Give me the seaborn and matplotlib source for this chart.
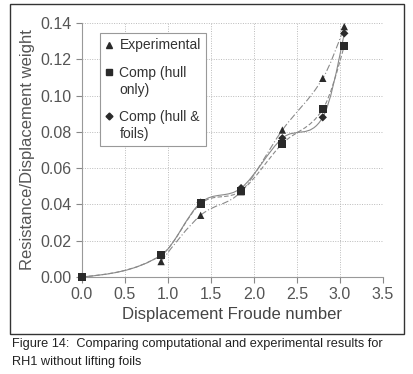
import numpy as np
import pandas as pd
import seaborn as sns
import matplotlib.pyplot as plt
from matplotlib.path import Path
from matplotlib.patches import PathPatch, Rectangle
from matplotlib.lines import Line2D
from matplotlib.legend_handler import HandlerLine2D

# -------- DATA --------
exp_fr = [0.92, 1.38, 1.85, 2.33, 2.80, 3.05]
exp_res = [0.0085, 0.034, 0.047, 0.081, 0.1095, 0.138]

hull_fr = [0.0, 0.92, 1.38, 1.85, 2.33, 2.80, 3.05]
hull_res = [0.0, 0.012, 0.0405, 0.0475, 0.0735, 0.0925, 0.1275]

foil_fr = [0.0, 0.92, 1.38, 1.85, 2.33, 2.80, 3.05]
foil_res = [0.0, 0.012, 0.041, 0.049, 0.0765, 0.088, 0.1343]

labels = ["Experimental", "Comp (hull\nonly)", "Comp (hull &\nfoils)"]
x_ticks = [0.0, 0.5, 1.0, 1.5, 2.0, 2.5, 3.0, 3.5]
y_ticks = [0.00, 0.02, 0.04, 0.06, 0.08, 0.10, 0.12, 0.14]

df = pd.concat([
    pd.DataFrame({"fr": foil_fr, "res": foil_res, "series": labels[2]}),
    pd.DataFrame({"fr": hull_fr, "res": hull_res, "series": labels[1]}),
    pd.DataFrame({"fr": exp_fr, "res": exp_res, "series": labels[0]}),
])


def smooth_path(xs, ys):
    # smooth line through the points (cubic hermite drawn as bezier segments)
    x = np.asarray(xs, float)
    y = np.asarray(ys, float)
    sec = np.diff(y) / np.diff(x)
    m = np.empty_like(y)
    m[1:-1] = (y[2:] - y[:-2]) / (x[2:] - x[:-2])
    m[0] = (3 * sec[0] - m[1]) / 2
    m[-1] = (3 * sec[-1] - m[-2]) / 2
    verts = [(x[0], y[0])]
    codes = [Path.MOVETO]
    for i in range(len(x) - 1):
        h = (x[i + 1] - x[i]) / 3
        verts += [(x[i] + h, y[i] + m[i] * h),
                  (x[i + 1] - h, y[i + 1] - m[i + 1] * h),
                  (x[i + 1], y[i + 1])]
        codes += [Path.CURVE4] * 3
    return Path(verts, codes)


class FirstLineHandler(HandlerLine2D):
    # put the marker next to the first line of a two-line label
    def __init__(self, shift=0.0, **kw):
        super().__init__(**kw)
        self.shift = shift

    def create_artists(self, legend, orig_handle, xdescent, ydescent, width,
                       height, fontsize, trans):
        arts = super().create_artists(legend, orig_handle, xdescent, ydescent,
                                      width, height, fontsize, trans)
        for a in arts:
            a.set_ydata(np.asarray(a.get_ydata()) + self.shift * fontsize)
        return arts


# -------- PLOT --------
sns.set_style("white")
plt.rcParams["font.family"] = ["Liberation Sans", "DejaVu Sans"]

fig = plt.figure(figsize=(4.13, 3.74), dpi=100)
ax = fig.add_axes([0.1985, 0.2594, 0.7288, 0.6791])

fig.patches.append(Rectangle((0.025, 0.107), 0.953, 0.881, transform=fig.transFigure,
                             fill=False, edgecolor="#333333", lw=1.0))

line_col = "#8a8a8a"
for xs, ys, ls in [(exp_fr, exp_res, (0, (6, 2, 1, 2))),
                   (hull_fr, hull_res, (0, (4, 2))),
                   (foil_fr, foil_res, "-")]:
    ax.add_patch(PathPatch(smooth_path(xs, ys), fill=False, edgecolor=line_col,
                           lw=0.8, linestyle=ls))

markers = {labels[0]: "^", labels[1]: "s", labels[2]: "D"}
sizes = {labels[0]: 28, labels[1]: 34, labels[2]: 18}
for name in [labels[2], labels[1], labels[0]]:
    sub = df[df["series"] == name]
    sns.scatterplot(data=sub, x="fr", y="res", marker=markers[name], s=sizes[name],
                    color="#2a2a2a", edgecolor="none", ax=ax, legend=False,
                    zorder=5, clip_on=False)

ax.set_xlim(0, 3.5)
ax.set_ylim(0, 0.14)
ax.set_xticks(x_ticks)
ax.set_yticks(y_ticks)
ax.set_xticklabels([f"{v:.1f}" for v in x_ticks])
ax.set_yticklabels([f"{v:.2f}" for v in y_ticks])
ax.tick_params(axis="both", labelsize=11.5, labelcolor="#555555", colors="#888888",
               length=4, width=0.8, direction="out", left=True, bottom=True)
ax.tick_params(axis="x", pad=3)
ax.grid(True, linestyle=(0, (1, 1.5)), color="#bbbbbb", lw=0.7)
for s in ["top", "right"]:
    ax.spines[s].set_visible(False)
ax.spines["left"].set_color("#999999")
ax.spines["bottom"].set_color("#999999")
ax.spines["bottom"].set_linestyle((0, (2, 1)))

ax.set_xlabel("Displacement Froude number", fontsize=12, color="#444444", labelpad=4)
ax.set_ylabel("Resistance/Displacement weight", fontsize=12, color="#555555", labelpad=4)

handles = [Line2D([], [], ls="none", marker=markers[n], color="#2a2a2a",
                  markersize=4.5 if n != labels[2] else 3.5) for n in labels]
hmap = {handles[1]: FirstLineHandler(shift=0.7), handles[2]: FirstLineHandler(shift=0.7)}
leg = ax.legend(handles, labels, loc="upper left", bbox_to_anchor=(0.06, 0.961),
                borderaxespad=0, fontsize=10, frameon=True, fancybox=False,
                labelspacing=1.0, handlelength=0.5, handletextpad=0.5, borderpad=0.4,
                framealpha=1, handler_map=hmap)
leg.get_frame().set_edgecolor("#999999")
leg.get_frame().set_linewidth(0.8)
for t in leg.get_texts():
    t.set_color("#333333")

fig.text(0.03, 0.080, "Figure 14:  Comparing computational and experimental results for",
         fontsize=9.2, color="#222222", va="center")
fig.text(0.03, 0.032, "RH1 without lifting foils", fontsize=9.2, color="#222222", va="center")

plt.savefig("out.png", dpi=100)
